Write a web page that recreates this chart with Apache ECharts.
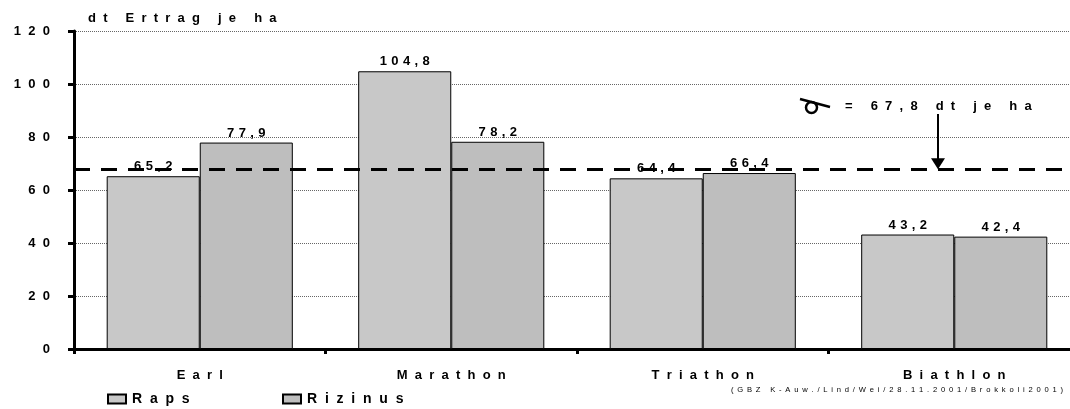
<!DOCTYPE html>
<html>
<head>
<meta charset="utf-8">
<script src="https://cdn.jsdelivr.net/npm/echarts@6/dist/echarts.min.js"></script>
<style>
html,body{margin:0;padding:0;background:#fff;}
#chart{width:1070px;height:409px;}
</style>
</head>
<body>
<div id="chart"></div>
<script>
// ---- data ----
const categories = ['Earl', 'Marathon', 'Triathon', 'Biathlon'];
const raps = [65.2, 104.8, 64.4, 43.2];
const rizinus = [77.9, 78.2, 66.4, 42.4];
const average = 67.8;
const yTicks = [0, 20, 40, 60, 80, 100, 120];
const seriesNames = ['Raps', 'Rizinus'];
const titleText = 'dt Ertrag je ha';
const avgText = '= 67,8 dt je ha';
const sourceText = '(GBZ K-Auw./Lind/Wei/28.11.2001/Brokkoli2001)';

// spaced-out text like the original (letter-spaced)
function sp(s, gap) { return String(s).split('').join(gap); }
const deComma = v => String(v).replace('.', ',');

const FONT = '"Liberation Sans", Arial, sans-serif';
const chart = echarts.init(document.getElementById('chart'), null, {renderer: 'canvas'});

const labelStyle = {
  show: true, position: 'top', distance: 3,
  color: '#000', fontFamily: FONT, fontWeight: 'bold', fontSize: 13,
  formatter: p => sp(deComma(p.value), '\u2004')
};

const legendCommon = {
  itemWidth: 18, itemHeight: 9, icon: 'rect', padding: 0, itemGap: 0,
  formatter: n => sp(n, '  '),
  textStyle: {fontFamily: FONT, fontWeight: 'bold', fontSize: 14, color: '#000', padding: [0, 0, 0, 1]}
};

const option = {
  animation: false,
  backgroundColor: '#fff',
  grid: {left: 74, top: 31, right: -10, bottom: 60, containLabel: false, outerBoundsMode: 'none'},
  title: {
    text: sp(titleText, '  '), left: 88, top: 12, padding: 0,
    textStyle: {fontFamily: FONT, fontWeight: 'bold', fontSize: 13, color: '#000'}
  },
  legend: [
    Object.assign({data: [seriesNames[0]], left: 107, top: 392}, legendCommon),
    Object.assign({data: [seriesNames[1]], left: 282, top: 392}, legendCommon)
  ],
  xAxis: {
    type: 'category', data: categories,
    axisLine: {lineStyle: {color: '#000', width: 3}},
    axisTick: {show: true, length: 5, lineStyle: {color: '#000', width: 3}},
    axisLabel: {margin: 20, color: '#000', fontFamily: FONT, fontWeight: 'bold', fontSize: 13,
                formatter: v => sp(v, '  ')}
  },
  yAxis: {
    type: 'value', min: yTicks[0], max: yTicks[yTicks.length - 1], interval: 20,
    axisLine: {show: true, lineStyle: {color: '#000', width: 3}},
    axisTick: {show: true, length: 6, lineStyle: {color: '#000', width: 3}},
    axisLabel: {margin: 24, color: '#000', fontFamily: FONT, fontWeight: 'bold', fontSize: 13,
                formatter: v => sp(v, '  ')},
    splitLine: {show: true, lineStyle: {color: '#666', width: 1, type: [1, 1]}}
  },
  series: [
    {
      name: seriesNames[0], type: 'bar', data: raps,
      barGap: '0%', barCategoryGap: '26%',
      itemStyle: {color: '#C8C8C8', borderColor: '#000', borderWidth: 1},
      label: labelStyle,
      markLine: {
        silent: true, symbol: 'none', label: {show: false},
        lineStyle: {color: '#000', width: 3, type: [16, 11]},
        data: [{yAxis: average}],
        z: 10
      }
    },
    {
      name: seriesNames[1], type: 'bar', data: rizinus,
      barGap: '0%', barCategoryGap: '26%',
      itemStyle: {color: '#BEBEBE', borderColor: '#000', borderWidth: 1},
      label: labelStyle
    }
  ]
};
chart.setOption(option);

// annotation: average symbol + label with arrow pointing at the dashed line
const tipY = chart.convertToPixel({yAxisIndex: 0}, average);
const ax = 938;
chart.setOption({
  graphic: [
    {type: 'circle', z: 20, shape: {cx: 811.5, cy: 107.5, r: 5.5},
     style: {fill: 'none', stroke: '#000', lineWidth: 2.5}},
    {type: 'line', z: 20, shape: {x1: 800, y1: 99, x2: 830, y2: 107},
     style: {stroke: '#000', lineWidth: 2.5}},
    {type: 'text', left: 845, top: 100, z: 20,
     style: {text: sp(avgText, '  '), font: 'bold 13px ' + FONT, fill: '#000'}},
    {type: 'line', z: 20, shape: {x1: ax, y1: 114, x2: ax, y2: tipY - 8},
     style: {stroke: '#000', lineWidth: 2}},
    {type: 'polygon', z: 20, shape: {points: [[ax - 7, tipY - 11], [ax + 7, tipY - 11], [ax, tipY]]},
     style: {fill: '#000'}},
    {type: 'text', right: 7, top: 386, z: 20,
     style: {text: sp(sourceText, '\u2002'), font: '7.6px ' + FONT, fill: '#000'}}
  ]
});
</script>
</body>
</html>
